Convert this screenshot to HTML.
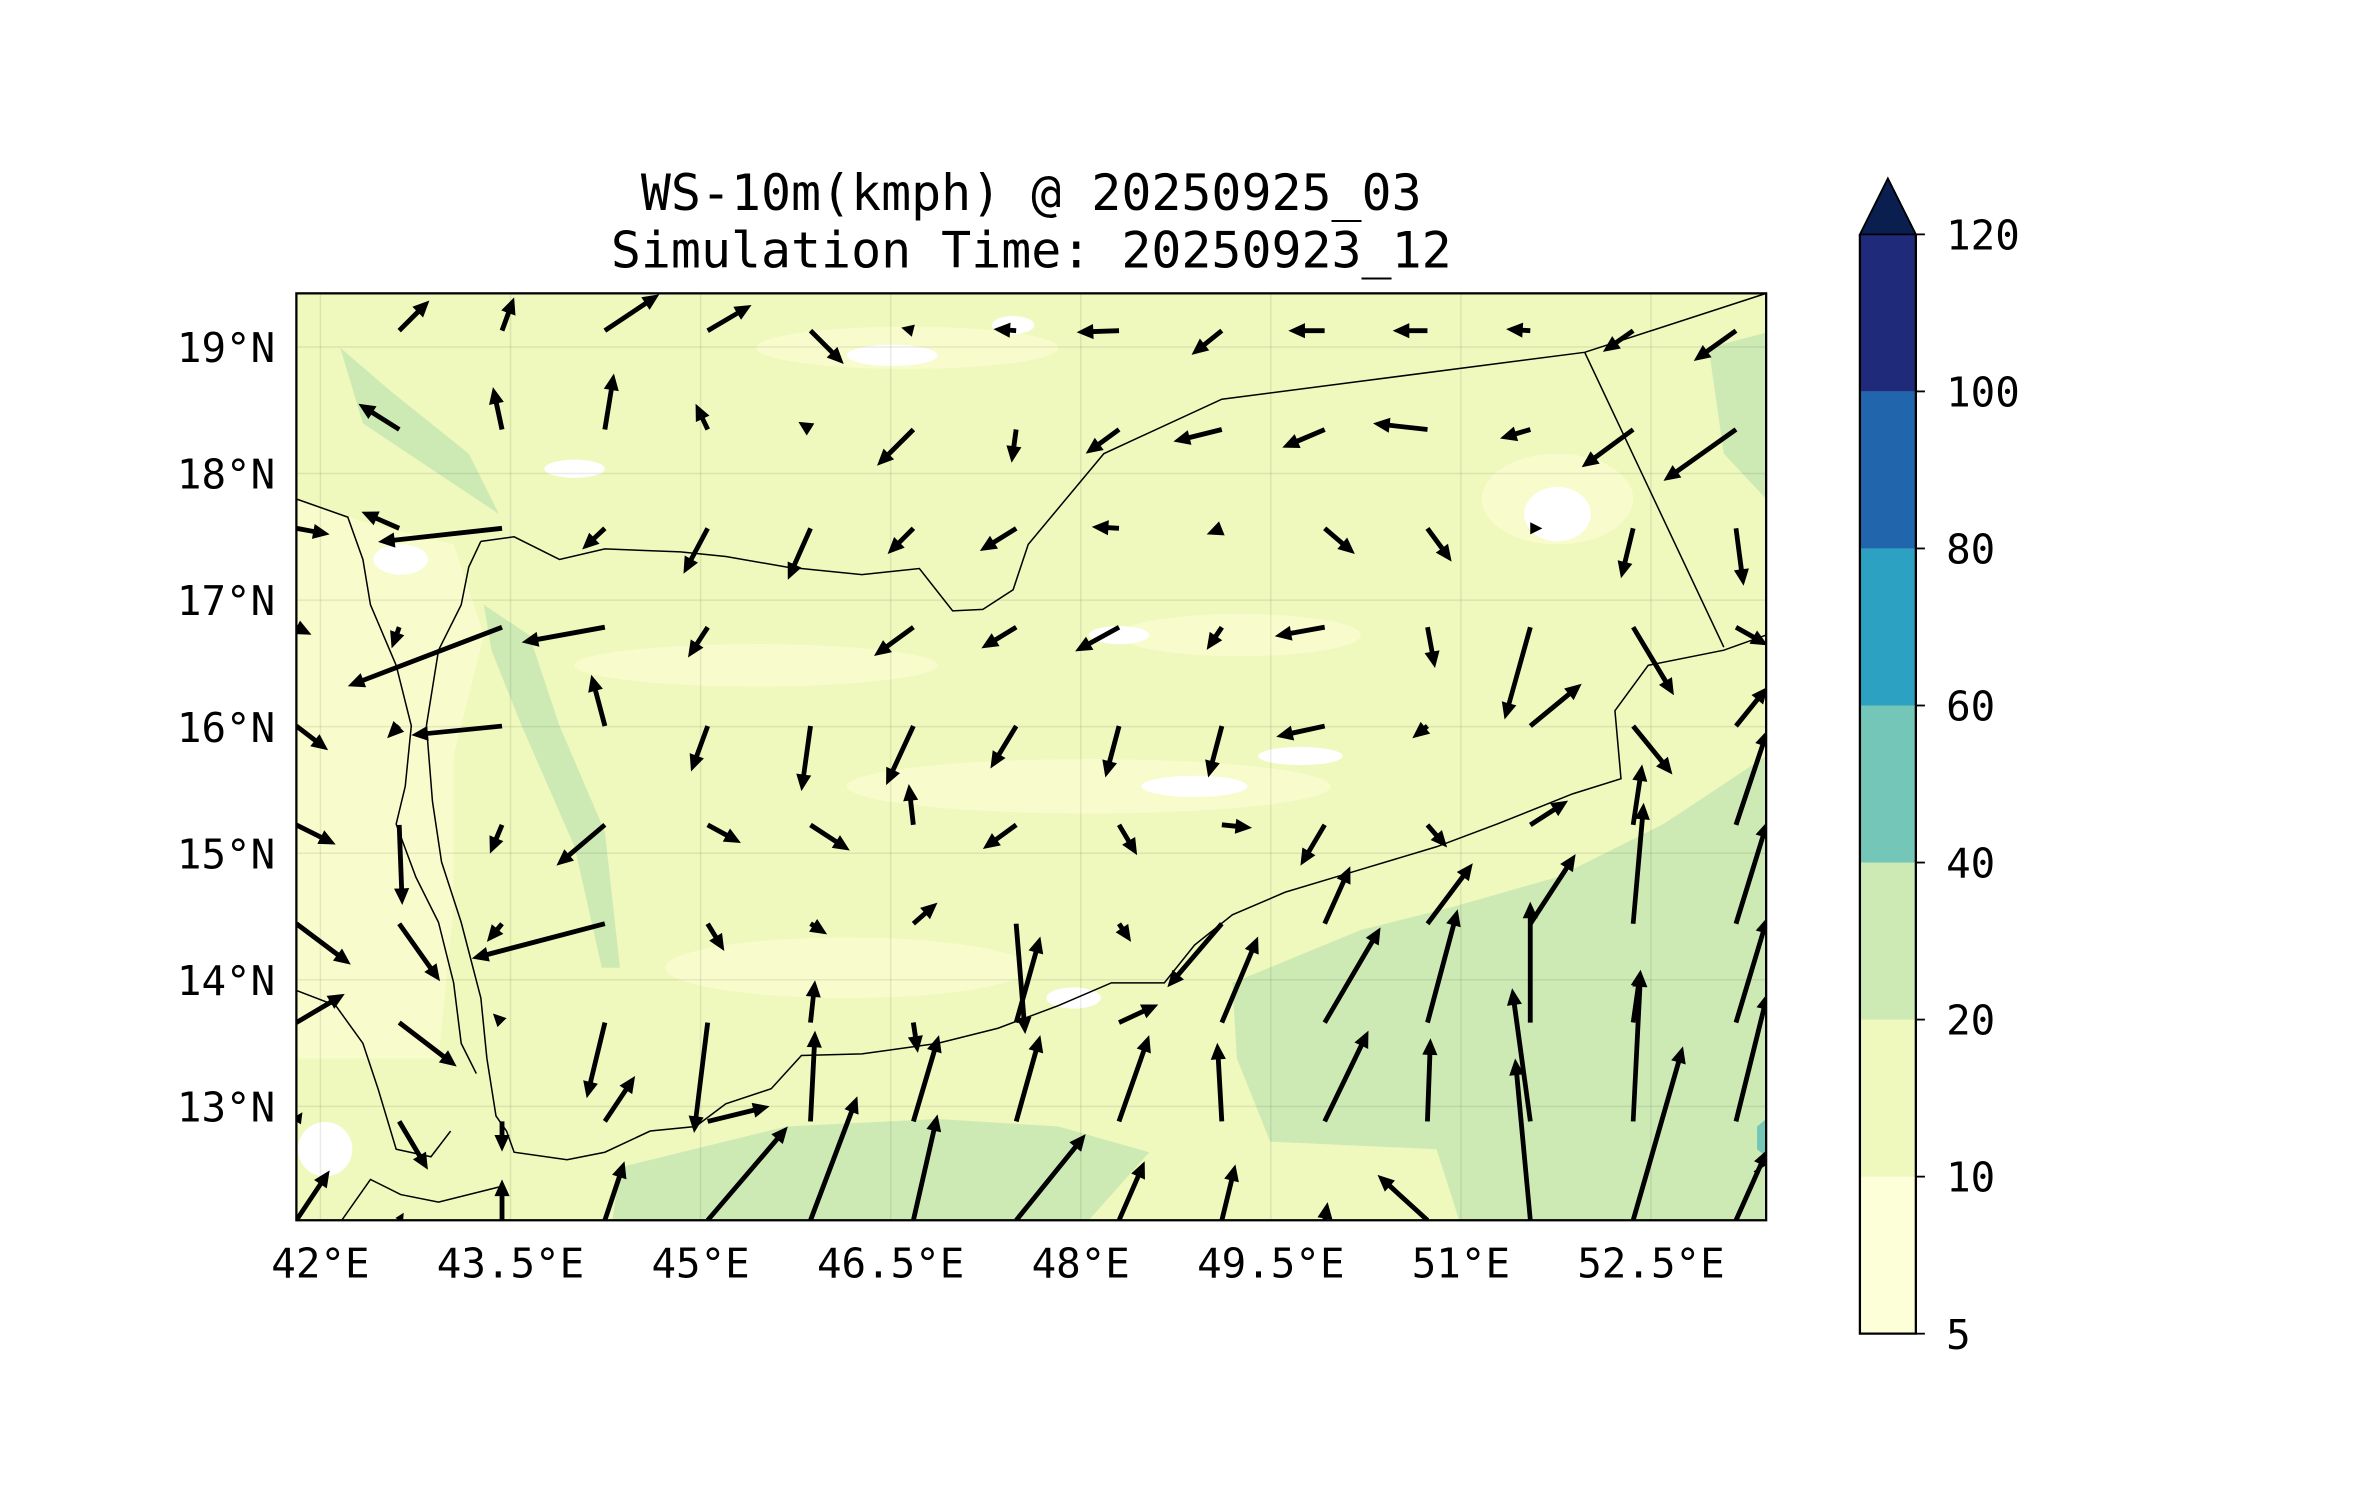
<!DOCTYPE html>
<html><head><meta charset="utf-8"><style>
html,body{margin:0;padding:0;background:#fff;}
svg{display:block;}
text{font-family:"DejaVu Sans Mono","Liberation Mono",monospace;fill:#000;}
</style></head>
<body>
<svg id="fig" width="2371" height="1500" viewBox="0 0 1568 992" preserveAspectRatio="none" xmlns="http://www.w3.org/2000/svg">
<defs><clipPath id="plotclip"><rect x="196" y="194" width="972" height="613"/></clipPath></defs>
<text x="682" y="139" font-size="33" text-anchor="middle">WS-10m(kmph) @ 20250925_03</text>
<text x="682" y="177" font-size="33" text-anchor="middle">Simulation Time: 20250923_12</text>
<g clip-path="url(#plotclip)">
  <rect x="196" y="194" width="972" height="613" fill="#eff8bd"/>
  <g fill="#f8fccc">
    <path d="M196,330 L240,345 L300,360 L320,420 L300,500 L300,600 L290,700 L196,700 Z"/>
    <ellipse cx="600" cy="230" rx="100" ry="14"/><ellipse cx="1030" cy="330" rx="50" ry="30"/>
    <ellipse cx="500" cy="440" rx="120" ry="14"/><ellipse cx="720" cy="520" rx="160" ry="18"/>
    <ellipse cx="560" cy="640" rx="120" ry="20"/><ellipse cx="820" cy="420" rx="80" ry="14"/>
  </g>
  <g fill="#ffffff">
    <ellipse cx="1030" cy="340" rx="22" ry="18"/><ellipse cx="590" cy="235" rx="30" ry="7"/>
    <ellipse cx="265" cy="370" rx="18" ry="10"/><ellipse cx="740" cy="420" rx="20" ry="6"/>
    <ellipse cx="790" cy="520" rx="35" ry="7"/><ellipse cx="710" cy="660" rx="18" ry="7"/>
    <ellipse cx="215" cy="760" rx="18" ry="18"/><ellipse cx="670" cy="215" rx="14" ry="6"/>
    <ellipse cx="380" cy="310" rx="20" ry="6"/><ellipse cx="860" cy="500" rx="28" ry="6"/>
  </g>
  <g fill="#cdeab5">
    <path d="M815,650 L900,615 L960,600 L1030,580 L1100,545 L1168,500 L1168,807 L965,807 L950,760 L840,755 L818,700 Z"/>
    <path d="M410,772 L520,745 L620,740 L700,745 L760,762 L720,807 L405,807 Z"/>
    <path d="M320,400 L350,420 L370,480 L400,550 L410,640 L398,640 L380,560 L345,480 L325,430 Z"/>
    <path d="M225,230 L240,280 L300,320 L330,340 L310,300 L260,260 Z"/>
    <path d="M1130,230 L1168,220 L1168,330 L1140,300 Z"/>
  </g>
  <path d="M1162,745 L1168,740 L1168,765 L1162,760 Z" fill="#73c6b8"/>
  <g stroke="#000" stroke-opacity="0.08" stroke-width="1" id="gridg"></g>
  <g fill="none" stroke="#000" stroke-width="1">
    <polyline points="318,358 340,355 370,370 400,363 450,365 480,368 520,375 570,380 608,376 630,404 650,403 670,390 680,360 730,300 808,264 1048,233 1168,194"/>
    <polyline points="1048,233 1140,428"/>
    <polyline points="1168,420 1140,430 1090,440 1068,470 1072,515 1040,525 990,545 950,560 900,575 850,590 815,605 790,625 770,650 735,650 700,665 660,680 620,690 570,697 530,698 510,720 480,730 460,745 430,748 400,762 375,767 340,762 335,748 328,738 322,700 318,660 305,610 292,570 286,530 282,480 290,430 305,400 310,375 318,358"/>
    <polyline points="196,330 230,342 240,370 245,400 262,440 272,480 268,520 262,545 275,580 290,610 300,650 305,690 315,710"/>
    <polyline points="196,655 222,665 240,690 250,720 262,760 285,765 298,748"/>
    <polyline points="226,807 245,780 265,790 290,795 330,785"/>
    <polyline points="1160,775 1168,770"/>
  </g>
  <g id="quiver"></g>
</g>
<rect x="196" y="194" width="972" height="613" fill="none" stroke="#000" stroke-width="1.5"/>
<g id="axes"></g>
<g id="cbar"></g>
</svg>
<script>
// ---- axis & grid data ----
const lonTicks = [42, 43.5, 45, 46.5, 48, 49.5, 51, 52.5];
const lonLabels = ["42°E","43.5°E","45°E","46.5°E","48°E","49.5°E","51°E","52.5°E"];
const latTicks = [13, 14, 15, 16, 17, 18, 19];
const latLabels = ["13°N","14°N","15°N","16°N","17°N","18°N","19°N"];
const cbarLevels = [5, 10, 20, 40, 60, 80, 100, 120];
const cbarColors = ["#fdffd8","#eff8bd","#cdeab5","#73c6b8","#2ca1c1","#2166ac","#1f2a7a"];
const cbarExtendColor = "#0a1e50";
// quiver grid (tails) and wind components (kmph-ish, u east, v north), rows from south to north
const gridLon0 = 41.81, gridDLon = 0.8115;
const gridLat0 = 12.10, gridDLat = 0.781;
const windU = [
 [22,3,0,13,53,31,16,46,17,9,2,-33,-10,33,21],
 [4,19,0,20,41,3,17,16,20,-3,29,2,-12,5,21],
 [32,38,-6,-12,-9,3,3,16,26,24,37,20,0,5,21],
 [36,27,-10,-88,11,11,16,6,8,-36,17,30,30,7,21],
 [26,2,-8,-32,22,26,-3,-22,12,20,-16,13,25,6,21],
 [21,-8,-60,-9,-11,-6,-18,-17,-9,-9,-32,-10,34,26,21],
 [10,-5,-102,-55,-13,0,-26,-23,-29,-10,-33,5,-17,27,21],
 [22,-25,-82,-15,-16,-15,-17,-24,-18,-10,20,16,8,-8,5],
 [0,-27,-6,6,-8,-8,-24,-3,-22,-32,-28,-36,-20,-34,-48],
 [0,20,8,36,29,22,-8,-15,-28,-20,-24,-23,-16,-20,-28]
];
const windV = [
 [33,5,27,39,62,82,70,57,39,37,12,30,107,115,47],
 [6,-32,-20,30,10,60,57,57,57,52,60,55,88,100,85],
 [19,-29,6,-50,-73,28,-20,57,12,57,63,75,80,35,70],
 [-27,-38,-12,-23,-18,-7,14,-73,-12,-42,38,40,46,80,68],
 [-13,-53,-19,-27,-12,-17,27,-16,-20,-2,-27,-15,16,40,63],
 [-16,-8,-6,34,-30,-43,-39,-28,-34,-34,-7,-8,28,-32,26],
 [-5,-14,-39,-10,-20,0,-19,-14,-16,-15,-6,-27,-61,-45,-12],
 [-4,11,-9,-14,-30,-34,-17,-15,1,-4,-17,-22,0,-33,-38],
 [0,17,28,37,17,5,-24,-22,-16,-8,-12,4,-6,-25,-34],
 [0,20,22,24,17,-22,2,1,-1,-16,0,0,1,-14,-20]
];
// ---- axis functions ----
const X0 = 196, PXPERDEG_X = 83.8, LONMIN = 41.81;
const Y0 = 807, PXPERDEG_Y = 83.7, LATMIN = 12.10;
const xOf = lon => X0 + (lon - LONMIN) * PXPERDEG_X;
const yOf = lat => Y0 - (lat - LATMIN) * PXPERDEG_Y;
const CB_TOP = 155, CB_BOT = 882, CB_X = 1230, CB_W = 37;
const cbY = i => CB_BOT - i * (CB_BOT - CB_TOP) / (cbarLevels.length - 1);
const NS = "http://www.w3.org/2000/svg";
function mk(tag, attrs, parent) { const e = document.createElementNS(NS, tag); for (const k in attrs) e.setAttribute(k, attrs[k]); parent.appendChild(e); return e; }

const gridg = document.getElementById('gridg');
const axes = document.getElementById('axes');
lonTicks.forEach((lon, i) => {
  const x = xOf(lon);
  const gl = mk('line', {x1:x, x2:x, y1:194, y2:807}, gridg);
  
  
  const t = mk('text', {x:x, y:845, 'font-size':27, 'text-anchor':'middle'}, axes);
  t.textContent = lonLabels[i];
  
  
});
latTicks.forEach((lat, i) => {
  const y = yOf(lat);
  const gl = mk('line', {x1:196, x2:1168, y1:y, y2:y}, gridg);
  
  
  const t = mk('text', {x:182, y:y + 10, 'font-size':27, 'text-anchor':'end'}, axes);
  t.textContent = latLabels[i];
  
  
});

// ---- quiver ----
const q = document.getElementById('quiver');
const SCALE = 1.0, HL = 11, HW = 5, SW = 1.6;
windU.forEach((row, j) => {
  row.forEach((u, i) => {
    const v = windV[j][i];
    const x0 = xOf(gridLon0 + i * gridDLon), y0 = yOf(gridLat0 + j * gridDLat);
    const dx = u * SCALE, dy = -v * SCALE;
    const L = Math.hypot(dx, dy);
    if (L < 1) return;
    const ux = dx / L, uy = dy / L, px = -uy, py = ux;
    const hl = Math.min(HL, L), sl = L - hl, hw = Math.max(2.5, Math.min(HW, L * 0.5));
    const pts = [
      [x0 + px*SW, y0 + py*SW], [x0 + ux*sl + px*SW, y0 + uy*sl + py*SW],
      [x0 + ux*sl + px*hw, y0 + uy*sl + py*hw], [x0 + dx, y0 + dy],
      [x0 + ux*sl - px*hw, y0 + uy*sl - py*hw], [x0 + ux*sl - px*SW, y0 + uy*sl - py*SW],
      [x0 - px*SW, y0 - py*SW]
    ].map(p => p[0].toFixed(1) + ',' + p[1].toFixed(1)).join(' ');
    const a = mk('polygon', {points: pts, fill: '#000'}, q);
    
    
  });
});

// ---- colorbar ----
const cb = document.getElementById('cbar');
cbarColors.forEach((c, i) => {
  const r = mk('rect', {x:CB_X, y:cbY(i+1), width:CB_W, height:cbY(i) - cbY(i+1), fill:c}, cb);
  
  
});
const tri = mk('polygon', {points: `${CB_X},${CB_TOP} ${CB_X+CB_W/2},118 ${CB_X+CB_W},${CB_TOP}`, fill:cbarExtendColor, stroke:'#000', 'stroke-width':1.2}, cb);


const frame = mk('path', {d:`M${CB_X},${CB_TOP} L${CB_X},${CB_BOT} L${CB_X+CB_W},${CB_BOT} L${CB_X+CB_W},${CB_TOP}`, fill:'none', stroke:'#000', 'stroke-width':1.5}, cb);


cbarLevels.forEach((lv, i) => {
  const y = cbY(i);
  const tk = mk('line', {x1:CB_X+CB_W, x2:CB_X+CB_W+6, y1:y, y2:y, stroke:'#000', 'stroke-width':1.2}, cb);
  
  
  const t = mk('text', {x:CB_X+CB_W+20, y:y + 10, 'font-size':27}, cb);
  t.textContent = String(lv);
  
  
});
</script>
</body></html>
